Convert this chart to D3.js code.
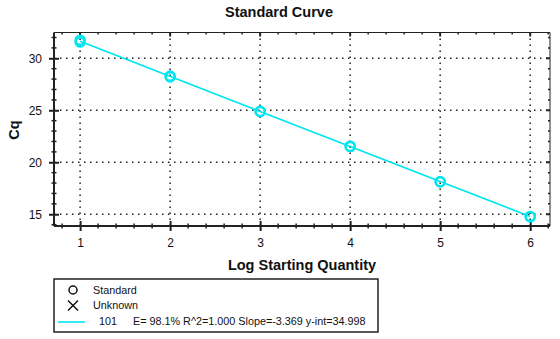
<!DOCTYPE html>
<html><head><meta charset="utf-8">
<script src="https://cdn.jsdelivr.net/npm/d3@7"></script>
<style>
html,body{margin:0;padding:0;background:#fff;}
svg{display:block;font-family:"Liberation Sans",Arial,sans-serif;}
</style></head>
<body>
<svg id="chart" width="560" height="339"></svg>
<script>
// ---- data ----
const logQuantity = [1, 1, 2, 2, 3, 3, 4, 4, 5, 5, 6, 6];
const cqValues = [31.55, 31.75, 28.3, 28.2, 24.9, 24.85, 21.5, 21.55, 18.1, 18.15, 14.8, 14.75];
const fitX = [1, 6];
const fitY = [31.63, 14.78];
const xTicks = [1, 2, 3, 4, 5, 6];
const yTicks = [15, 20, 25, 30];
const legendLabels = ["Standard", "Unknown"];
const fitLabel = "101";
const fitStats = "E= 98.1% R^2=1.000 Slope=-3.369 y-int=34.998";
const title = "Standard Curve";
const xTitle = "Log Starting Quantity";
const yTitle = "Cq";

const cyan = "#00e6f0";
const svg = d3.select("#chart");
const L = 54, R = 550, T = 32.5, B = 226;
const x = d3.scaleLinear().domain([0.71, 6.22]).range([L, R]);
const y = d3.scaleLinear().domain([13.87, 32.48]).range([B, T]);

const xMinor = d3.range(0.8, 6.21, 0.2).map(v => +v.toFixed(1));
const yMinor = d3.range(14, 32.5, 1);

// grid
const grid = svg.append("g").attr("stroke", "#222").attr("stroke-width", 1.5).attr("stroke-dasharray", "1.5,4.5");
grid.selectAll(".gx").data(xTicks).join("line")
  .attr("x1", d => x(d)).attr("x2", d => x(d)).attr("y1", T).attr("y2", B);
grid.selectAll(".gy").data(yTicks).join("line")
  .attr("x1", L).attr("x2", R).attr("y1", d => y(d)).attr("y2", d => y(d));

// frame: right and top thin
svg.append("line").attr("x1", L).attr("x2", R).attr("y1", T).attr("y2", T).attr("stroke", "#222").attr("stroke-width", 1);
svg.append("line").attr("x1", R).attr("x2", R).attr("y1", T).attr("y2", B).attr("stroke", "#222").attr("stroke-width", 1);

// bottom axis
const xAxis = d3.axisBottom(x).tickValues(xTicks).tickFormat(d3.format("d")).tickSizeInner(4).tickSizeOuter(0).tickPadding(8);
const gx = svg.append("g").attr("transform", `translate(0,${B})`).call(xAxis);
gx.select(".domain").attr("stroke", "#222").attr("stroke-width", 2).attr("d", `M${L},0H${R}`);
gx.selectAll(".tick line").attr("y1", -5).attr("y2", 5).attr("stroke-width", 2).attr("stroke", "#222");
gx.selectAll(".tick text").attr("font-size", 12).attr("fill", "#111").attr("font-family", "Liberation Sans, Arial, sans-serif");
svg.append("g").selectAll("line").data(xMinor.filter(v => !xTicks.includes(v))).join("line")
  .attr("x1", d => x(d)).attr("x2", d => x(d)).attr("y1", B - 2.5).attr("y2", B + 2.5).attr("stroke", "#222").attr("stroke-width", 1.5);
// top ticks
svg.append("g").selectAll("line").data(xMinor).join("line")
  .attr("x1", d => x(d)).attr("x2", d => x(d)).attr("y1", T).attr("y2", d => T + (xTicks.includes(d) ? 4 : 2))
  .attr("stroke", "#222").attr("stroke-width", d => xTicks.includes(d) ? 2 : 1.5);

// left axis
const yAxis = d3.axisLeft(y).tickValues(yTicks).tickSizeInner(4).tickSizeOuter(0).tickPadding(8);
const gy = svg.append("g").attr("transform", `translate(${L},0)`).call(yAxis);
gy.select(".domain").attr("stroke", "#222").attr("stroke-width", 2).attr("d", `M0,${T}V${B}`);
gy.selectAll(".tick line").attr("x1", -5).attr("x2", 5).attr("stroke-width", 2).attr("stroke", "#222");
gy.selectAll(".tick text").attr("font-size", 12).attr("fill", "#111").attr("font-family", "Liberation Sans, Arial, sans-serif");
svg.append("g").selectAll("line").data(yMinor.filter(v => !yTicks.includes(v))).join("line")
  .attr("x1", L - 2.5).attr("x2", L + 2.5).attr("y1", d => y(d)).attr("y2", d => y(d)).attr("stroke", "#222").attr("stroke-width", 1.5);
// right ticks
svg.append("g").selectAll("line").data(yMinor).join("line")
  .attr("x1", R).attr("x2", d => R - (yTicks.includes(d) ? 4 : 2)).attr("y1", d => y(d)).attr("y2", d => y(d))
  .attr("stroke", "#222").attr("stroke-width", d => yTicks.includes(d) ? 2 : 1.5);

// fit line
svg.append("path").datum(fitX.map((v, i) => [v, fitY[i]]))
  .attr("d", d3.line().x(d => x(d[0])).y(d => y(d[1])))
  .attr("fill", "none").attr("stroke", cyan).attr("stroke-width", 1.6);

// points
svg.append("g").selectAll("circle").data(logQuantity.map((v, i) => [v, cqValues[i]])).join("circle")
  .attr("cx", d => x(d[0])).attr("cy", d => y(d[1])).attr("r", 4.6)
  .attr("fill", "none").attr("stroke", cyan).attr("stroke-width", 2.2);

// titles
svg.append("text").attr("x", 279).attr("y", 17).attr("text-anchor", "middle")
  .attr("font-size", 14.5).attr("font-weight", "bold").attr("fill", "#111").text(title);
svg.append("text").attr("x", 302).attr("y", 270).attr("text-anchor", "middle")
  .attr("font-size", 14.5).attr("font-weight", "bold").attr("fill", "#111").text(xTitle);
svg.append("text").attr("transform", "translate(19,130) rotate(-90)").attr("text-anchor", "middle")
  .attr("font-size", 14.5).attr("font-weight", "bold").attr("fill", "#111").text(yTitle);

// legend
const lg = svg.append("g");
lg.append("rect").attr("x", 54).attr("y", 279).attr("width", 324).attr("height", 53)
  .attr("fill", "#fff").attr("stroke", "#222").attr("stroke-width", 1.5);
lg.append("circle").attr("cx", 73).attr("cy", 290).attr("r", 4).attr("fill", "none").attr("stroke", "#111").attr("stroke-width", 1.5);
lg.append("path").attr("d", "M68,300.5L78,310.5M78,300.5L68,310.5").attr("stroke", "#111").attr("stroke-width", 1.5);
lg.append("line").attr("x1", 58).attr("x2", 85).attr("y1", 322).attr("y2", 322).attr("stroke", cyan).attr("stroke-width", 1.6);
lg.selectAll(".lt").data(legendLabels).join("text")
  .attr("x", 93).attr("y", (d, i) => 294 + i * 15).attr("font-size", 10.8).attr("fill", "#111").text(d => d);
lg.append("text").attr("x", 99).attr("y", 325).attr("font-size", 10.8).attr("fill", "#111").text(fitLabel);
lg.append("text").attr("x", 133).attr("y", 325).attr("font-size", 10.8).attr("fill", "#111").text(fitStats);
</script>
</body></html>
